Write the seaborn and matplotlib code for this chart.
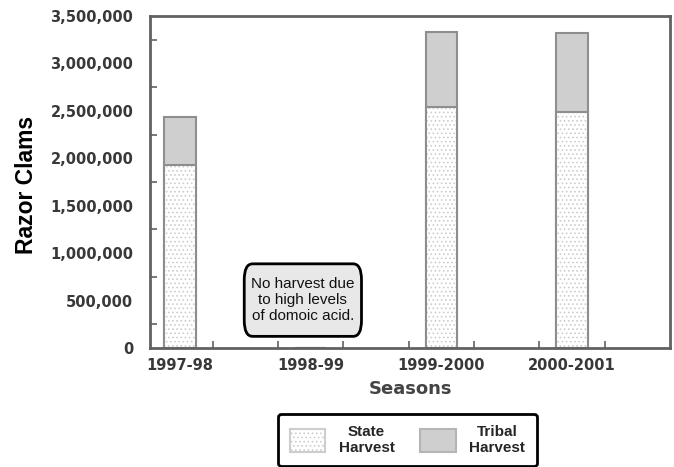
import matplotlib
matplotlib.use("Agg")
import matplotlib.pyplot as plt
from matplotlib.patches import Patch
from matplotlib.ticker import StrMethodFormatter, FixedLocator
import seaborn as sns
import pandas as pd

# Razor clam harvest by season
seasons = ["1997-98", "1998-99", "1999-2000", "2000-2001"]
state_harvest = [1930000, 0, 2540000, 2490000]
tribal_harvest = [500000, 0, 790000, 830000]
y_ticks = [0, 500000, 1000000, 1500000, 2000000, 2500000, 3000000, 3500000]
note_text = "No harvest due\nto high levels\nof domoic acid."

df = pd.DataFrame({
    "season": seasons,
    "state": state_harvest,
    "total": [s + t for s, t in zip(state_harvest, tribal_harvest)],
})

sns.set_theme(style="white")
plt.rcParams["font.family"] = ["DejaVu Sans"]
plt.rcParams["hatch.linewidth"] = 0.7

fig = plt.figure(figsize=(6.74, 4.67), dpi=100)
ax = fig.add_axes([150 / 674, 1 - 348 / 467, 520 / 674, 332 / 467])

SPINE = "#616161"
TRIBAL = "#cfcfcf"
BAR_EDGE = "#8e8e8e"
DOT = "#cdcdcd"

# Stacked bars: total (tribal on top), then the state portion over it
sns.barplot(data=df, x="season", y="total", order=seasons, color=TRIBAL,
            saturation=1, width=0.24, edgecolor=BAR_EDGE, linewidth=1.5, ax=ax)
n_total = len(ax.patches)
sns.barplot(data=df, x="season", y="state", order=seasons, color="white",
            saturation=1, width=0.24, edgecolor=DOT, linewidth=0, ax=ax)
for p in ax.patches[n_total:]:
    p.set_hatch("....")
# outline for the state portion
sns.barplot(data=df, x="season", y="state", order=seasons, fill=False,
            width=0.24, edgecolor=BAR_EDGE, linewidth=1.5, ax=ax)

ax.set_xlim(-0.23, 3.75)
ax.set_ylim(0, 3500000)
ax.set_yticks(y_ticks)
ax.yaxis.set_major_formatter(StrMethodFormatter("{x:,.0f}"))
ax.xaxis.set_minor_locator(FixedLocator([0.25, 0.75, 1.25, 1.75, 2.25, 2.75, 3.25]))
ax.yaxis.set_minor_locator(FixedLocator([y + 250000 for y in y_ticks[:-1]]))

ax.tick_params(axis="both", which="major", length=0, labelsize=10.5,
               labelcolor="#383838")
ax.tick_params(axis="y", which="major", pad=12)
ax.tick_params(axis="x", which="major", pad=7)
ax.tick_params(axis="both", which="minor", direction="in", length=5,
               width=1.2, color=SPINE, bottom=True, left=True)
for lab in ax.get_xticklabels() + ax.get_yticklabels():
    lab.set_fontweight("bold")

for s in ax.spines.values():
    s.set_visible(True)
    s.set_color(SPINE)
    s.set_linewidth(2)

ax.set_xlabel("Seasons", fontsize=13, fontweight="bold", color="#444444",
              labelpad=5)
ax.set_ylabel("Razor Clams", fontsize=16.5, fontweight="bold", color="black",
              family="Liberation Sans", va="center")
ax.yaxis.set_label_coords(-0.238, 0.49)

# Note for the season without a harvest
ax.text(0.94, 505000, note_text, ha="center", va="center", fontsize=11,
        family="Liberation Sans", color="#111111", linespacing=1.2,
        bbox=dict(boxstyle="round,pad=0.45,rounding_size=0.55",
                  mutation_aspect=1.9,
                  facecolor="#e8e8e8", edgecolor="black", linewidth=2))

handles = [
    Patch(facecolor="white", edgecolor=DOT, hatch="....", linewidth=1.5),
    Patch(facecolor=TRIBAL, edgecolor="#b5b5b5", linewidth=1.5),
]
leg = fig.legend(handles, ["State\nHarvest", "Tribal\nHarvest"],
                 loc="center", bbox_to_anchor=(407.5 / 674, 1 - 440 / 467),
                 ncol=2, frameon=True, fancybox=True,
                 prop={"family": "Liberation Sans", "weight": "bold", "size": 11},
                 handlelength=2.3, handleheight=2.0, handletextpad=0.9,
                 columnspacing=1.7, borderpad=0.75)
frame = leg.get_frame()
frame.set_edgecolor("black")
frame.set_linewidth(2)
frame.set_facecolor("white")
frame.set_alpha(1)
for t in leg.get_texts():
    t.set_multialignment("center")
    t.set_linespacing(1.1)

fig.savefig("out.png", dpi=100)
